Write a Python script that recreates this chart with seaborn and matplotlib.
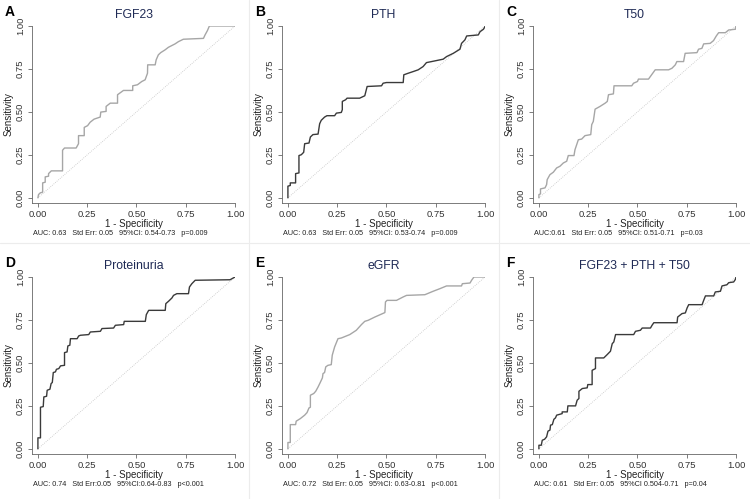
import matplotlib
matplotlib.use("Agg")
import matplotlib.pyplot as plt
from matplotlib.lines import Line2D
import seaborn as sns
import pandas as pd

sns.set_style("white")
plt.rcParams['font.family'] = ['Liberation Sans', 'DejaVu Sans']

# ROC curve vertices (1 - specificity, sensitivity)
fgf23_x = [0, 0.003, 0.012, 0.024, 0.024, 0.037, 0.037, 0.054, 0.054, 0.068, 0.125, 0.125, 0.135, 0.194,
           0.206, 0.206, 0.235, 0.235, 0.252, 0.265, 0.285, 0.316, 0.319, 0.346, 0.346, 0.367, 0.404, 0.404,
           0.434, 0.481, 0.481, 0.505, 0.527, 0.544, 0.556, 0.557, 0.595, 0.6, 0.611, 0.623, 0.645, 0.662,
           0.696, 0.713, 0.738, 0.84, 0.848, 0.86, 0.87, 1.0]
fgf23_y = [0, 0.019, 0.029, 0.033, 0.087, 0.091, 0.122, 0.126, 0.141, 0.157, 0.157, 0.277, 0.29, 0.29,
           0.315, 0.362, 0.362, 0.41, 0.42, 0.44, 0.458, 0.47, 0.499, 0.503, 0.532, 0.551, 0.551, 0.6,
           0.625, 0.625, 0.652, 0.658, 0.677, 0.687, 0.725, 0.774, 0.774, 0.803, 0.832, 0.845, 0.861, 0.876,
           0.896, 0.909, 0.923, 0.928, 0.948, 0.973, 1.0, 1.0]

pth_x = [0, 0, 0.012, 0.012, 0.039, 0.039, 0.056, 0.056, 0.068, 0.08, 0.085, 0.107, 0.114, 0.127, 0.153,
         0.161, 0.169, 0.186, 0.198, 0.237, 0.246, 0.271, 0.276, 0.276, 0.293, 0.3, 0.364, 0.39, 0.402,
         0.475, 0.483, 0.5, 0.585, 0.588, 0.61, 0.636, 0.661, 0.686, 0.703, 0.729, 0.788, 0.805, 0.839,
         0.873, 0.881, 0.898, 0.907, 0.966, 0.975, 0.992, 1.0, 1.0]
pth_y = [0, 0.068, 0.072, 0.087, 0.087, 0.141, 0.145, 0.246, 0.251, 0.265, 0.315, 0.319, 0.354, 0.368, 0.371,
         0.431, 0.451, 0.47, 0.478, 0.478, 0.493, 0.497, 0.513, 0.561, 0.571, 0.58, 0.58, 0.594, 0.648,
         0.652, 0.667, 0.671, 0.671, 0.716, 0.725, 0.735, 0.745, 0.764, 0.787, 0.793, 0.807, 0.822, 0.841,
         0.865, 0.899, 0.919, 0.942, 0.948, 0.967, 0.981, 0.996, 1.0]

t50_x = [0, 0, 0.008, 0.008, 0.031, 0.039, 0.042, 0.056, 0.073, 0.09, 0.107, 0.124, 0.141, 0.149, 0.178,
         0.183, 0.2, 0.217, 0.234, 0.263, 0.268, 0.276, 0.285, 0.31, 0.336, 0.347, 0.353, 0.378, 0.381,
         0.471, 0.48, 0.5, 0.505, 0.556, 0.59, 0.658, 0.675, 0.692, 0.7, 0.734, 0.742, 0.802, 0.81, 0.827,
         0.836, 0.869, 0.886, 0.9, 0.912, 0.946, 0.963, 0.997, 1.0]
t50_y = [0, 0.019, 0.023, 0.052, 0.058, 0.077, 0.106, 0.135, 0.149, 0.174, 0.184, 0.203, 0.213, 0.246, 0.246,
         0.28, 0.338, 0.342, 0.362, 0.368, 0.426, 0.445, 0.516, 0.532, 0.551, 0.561, 0.6, 0.605, 0.652,
         0.652, 0.667, 0.677, 0.691, 0.691, 0.745, 0.745, 0.754, 0.774, 0.793, 0.793, 0.841, 0.845, 0.865,
         0.87, 0.896, 0.899, 0.915, 0.942, 0.961, 0.961, 0.977, 0.981, 1.0]

prot_x = [0, 0, 0.013, 0.013, 0.027, 0.03, 0.044, 0.047, 0.061, 0.067, 0.073, 0.078, 0.089, 0.094, 0.106,
          0.115, 0.135, 0.135, 0.148, 0.152, 0.162, 0.165, 0.199, 0.207, 0.216, 0.258, 0.266, 0.317, 0.325,
          0.384, 0.393, 0.435, 0.438, 0.545, 0.55, 0.562, 0.646, 0.649, 0.663, 0.68, 0.688, 0.705, 0.764,
          0.769, 0.781, 0.798, 0.975, 1.0]
prot_y = [0, 0.064, 0.064, 0.242, 0.246, 0.302, 0.306, 0.341, 0.347, 0.38, 0.386, 0.444, 0.448, 0.463, 0.467,
          0.483, 0.486, 0.56, 0.564, 0.599, 0.603, 0.641, 0.641, 0.657, 0.661, 0.665, 0.68, 0.684, 0.7,
          0.703, 0.719, 0.723, 0.742, 0.742, 0.781, 0.806, 0.806, 0.845, 0.859, 0.878, 0.893, 0.903, 0.903,
          0.942, 0.961, 0.981, 0.984, 1.0]

egfr_x = [0, 0, 0.012, 0.012, 0.039, 0.042, 0.063, 0.085, 0.097, 0.107, 0.114, 0.114, 0.131, 0.141, 0.153,
          0.164, 0.175, 0.178, 0.186, 0.192, 0.203, 0.22, 0.225, 0.237, 0.254, 0.271, 0.314, 0.347, 0.373,
          0.39, 0.407, 0.441, 0.492, 0.495, 0.503, 0.551, 0.585, 0.602, 0.695, 0.737, 0.771, 0.805, 0.881,
          0.885, 0.924, 0.932, 0.944, 1.0]
egfr_y = [0, 0.037, 0.037, 0.141, 0.141, 0.161, 0.176, 0.196, 0.211, 0.238, 0.242, 0.312, 0.322, 0.335, 0.36,
          0.386, 0.413, 0.438, 0.444, 0.477, 0.486, 0.49, 0.545, 0.593, 0.641, 0.645, 0.665, 0.69, 0.723,
          0.742, 0.748, 0.767, 0.793, 0.855, 0.864, 0.864, 0.884, 0.893, 0.897, 0.917, 0.932, 0.948, 0.948,
          0.961, 0.965, 0.981, 1.0, 1.0]

combo_x = [0, 0, 0.012, 0.017, 0.029, 0.039, 0.046, 0.056, 0.059, 0.068, 0.076, 0.084, 0.09, 0.118, 0.118,
           0.144, 0.147, 0.186, 0.194, 0.203, 0.203, 0.22, 0.245, 0.248, 0.27, 0.27, 0.287, 0.287, 0.329,
           0.346, 0.363, 0.372, 0.38, 0.389, 0.481, 0.49, 0.515, 0.524, 0.566, 0.574, 0.583, 0.701, 0.704,
           0.726, 0.743, 0.752, 0.76, 0.828, 0.836, 0.845, 0.887, 0.895, 0.921, 0.929, 0.954, 0.963, 0.988,
           0.997, 1.0]
combo_y = [0, 0.021, 0.021, 0.05, 0.056, 0.07, 0.103, 0.109, 0.138, 0.141, 0.172, 0.18, 0.196, 0.205, 0.215,
           0.215, 0.25, 0.25, 0.283, 0.293, 0.335, 0.351, 0.355, 0.374, 0.374, 0.457, 0.467, 0.529, 0.529,
           0.548, 0.568, 0.612, 0.622, 0.665, 0.665, 0.684, 0.69, 0.703, 0.703, 0.719, 0.734, 0.734, 0.767,
           0.787, 0.791, 0.82, 0.839, 0.839, 0.864, 0.89, 0.89, 0.913, 0.917, 0.948, 0.955, 0.967, 0.971,
           0.986, 1.0]

letters = ['A', 'B', 'C', 'D', 'E', 'F']
titles = ['FGF23', 'PTH', 'T50', 'Proteinuria', 'eGFR', 'FGF23 + PTH + T50']
curves_x = [fgf23_x, pth_x, t50_x, prot_x, egfr_x, combo_x]
curves_y = [fgf23_y, pth_y, t50_y, prot_y, egfr_y, combo_y]
stats = [
    'AUC: 0.63   Std Err: 0.05   95%CI: 0.54-0.73   p=0.009',
    'AUC: 0.63   Std Err: 0.05   95%CI: 0.53-0.74   p=0.009',
    'AUC:0.61   Std Err: 0.05   95%CI: 0.51-0.71   p=0.03',
    'AUC: 0.74   Std Err:0.05   95%CI:0.64-0.83   p<0.001',
    'AUC: 0.72   Std Err: 0.05   95%CI: 0.63-0.81   p<0.001',
    'AUC: 0.61   Std Err: 0.05   95%CI 0.504-0.71   p=0.04',
]
line_colors = ['#a6a6a6', '#3a3a3a', '#a6a6a6', '#3a3a3a', '#a6a6a6', '#3a3a3a']
ticks = [0, 0.25, 0.5, 0.75, 1.0]
tick_labels = ['0.00', '0.25', '0.50', '0.75', '1.00']

W, H = 750, 499
fig = plt.figure(figsize=(7.5, 4.99), dpi=100)

lefts = [32, 282, 533]
tops = [26, 277]
pw, ph = 203, 177

for i in range(6):
    r, c = divmod(i, 3)
    l, t = lefts[c], tops[r]
    ax = fig.add_axes([l / W, 1 - (t + ph) / H, pw / W, ph / H])
    ax.plot([0, 1], [0, 1], color='#c4c4c4', lw=0.6, ls=(0, (1, 1.5)))
    df = pd.DataFrame({'fpr': curves_x[i], 'tpr': curves_y[i]})
    sns.lineplot(data=df, x='fpr', y='tpr', sort=False, estimator=None,
                 color=line_colors[i], lw=1.0, ax=ax)
    ax.set_xlim(-0.03, 1.0)
    ax.set_ylim(-0.03, 1.0)
    ax.set_xticks(ticks)
    ax.set_xticklabels(tick_labels)
    ax.set_yticks(ticks)
    ax.set_yticklabels(tick_labels, rotation=90, va='center')
    ax.tick_params(axis='both', length=3, width=0.6, color='#666666', labelsize=6.8,
                   labelcolor='#333333', pad=2, direction='out', bottom=True, left=True)
    for s in ['top', 'right']:
        ax.spines[s].set_visible(False)
    for s in ['left', 'bottom']:
        ax.spines[s].set_color('#666666')
        ax.spines[s].set_linewidth(0.6)
    ax.set_xlabel('1 - Specificity', fontsize=7, color='#222222', labelpad=0)
    ax.set_ylabel('Sensitivity', fontsize=7, color='#222222', labelpad=2)
    ax.set_title(titles[i], fontsize=8.8, color='#1f2a55', pad=6)
    ax.text(0.005, -0.172, stats[i], transform=ax.transAxes, fontsize=5.2, color='#222222',
            ha='left', va='center')
    fig.text((l - 27) / W, 1 - (t - 14) / H, letters[i], fontsize=10, fontweight='bold',
             ha='left', va='center', color='black')

# faint panel separators
for xs in [249, 499]:
    fig.add_artist(Line2D([xs / W, xs / W], [0, 1], color='#ececec', lw=0.8))
fig.add_artist(Line2D([0, 1], [1 - 243 / H, 1 - 243 / H], color='#ececec', lw=0.8))

fig.savefig('out.png', dpi=100)
